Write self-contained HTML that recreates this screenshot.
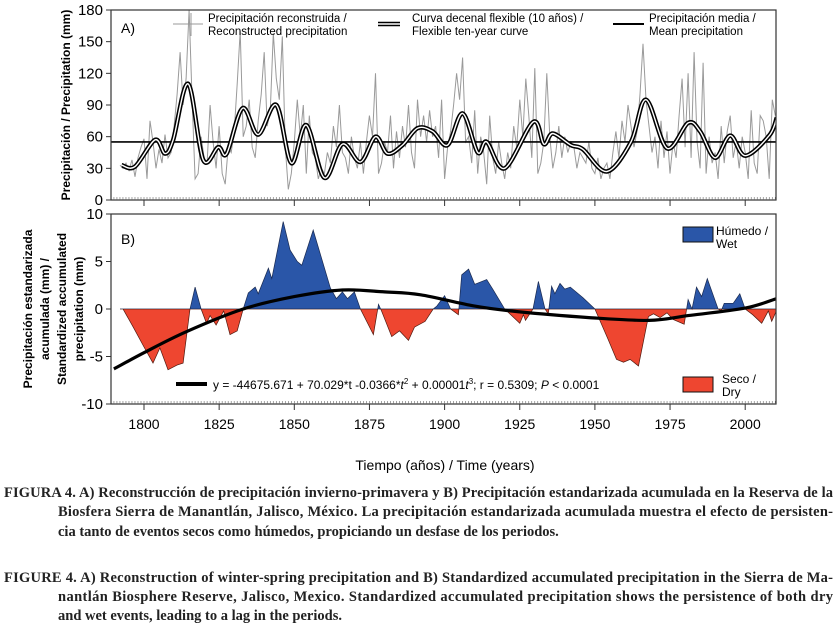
<!DOCTYPE html>
<html><head><meta charset="utf-8"><style>
html,body{margin:0;padding:0;background:#fff;width:837px;height:627px;overflow:hidden}
svg{display:block}
text{font-family:"Liberation Sans",sans-serif}
.cap text{font-family:"Liberation Serif",serif;font-size:14.5px;font-weight:bold;fill:#222}
</style></head><body>
<svg id="chart" width="837" height="627" viewBox="0 0 837 627" xmlns="http://www.w3.org/2000/svg">
<g id="gA"></g>
<g id="gB"></g>
<g id="gX"></g>

<text x="70" y="105" transform="rotate(-90 70 105)" text-anchor="middle" font-size="12" font-weight="bold">Precipitación / Precipitation (mm)</text>
<g font-size="12" font-weight="bold" text-anchor="middle">
<text transform="translate(32 309) rotate(-90)">Precipitación estandarizada</text>
<text transform="translate(49 309) rotate(-90)">acumulada (mm) /</text>
<text transform="translate(66 309) rotate(-90)">Standardized accumulated</text>
<text transform="translate(83 309) rotate(-90)">precipitation (mm)</text>
</g>
<text x="445" y="470" text-anchor="middle" font-size="14">Tiempo (años) / Time (years)</text>

<text x="121" y="33" font-size="14">A)</text>
<text x="121" y="244" font-size="14">B)</text>

<g font-size="11.5">
<g><line x1="173" y1="24" x2="203" y2="24" stroke="#999" stroke-width="1"/><line x1="191" y1="13" x2="191" y2="36" stroke="#999"/><text x="208" y="22">Precipitación reconstruida /</text><text x="208" y="35">Reconstructed precipitation</text></g>
<g><line x1="378" y1="24" x2="400" y2="24" stroke="#000" stroke-width="4.5"/><line x1="378" y1="24" x2="400" y2="24" stroke="#fff" stroke-width="1.5"/><text x="412" y="22">Curva decenal flexible (10 años) /</text><text x="412" y="35">Flexible ten-year curve</text></g>
<g><line x1="613" y1="24" x2="644" y2="24" stroke="#000" stroke-width="2"/><text x="649" y="22">Precipitación media /</text><text x="649" y="35">Mean precipitation</text></g>
</g>
<g font-size="12">
<g><rect x="683" y="227" width="30" height="15" fill="#2a56a8" stroke="#111"/><text x="716" y="235">Húmedo /</text><text x="716" y="248">Wet</text></g>
<g><rect x="683" y="377" width="30" height="15" fill="#ee4630" stroke="#111"/><text x="722" y="383">Seco /</text><text x="722" y="396">Dry</text></g>
<g><line x1="176" y1="384" x2="207" y2="384" stroke="#000" stroke-width="4"/><text x="213" y="389">y = -44675.671 + 70.029*t -0.0366*<tspan font-style="italic">t</tspan><tspan font-size="8" dy="-5">2</tspan><tspan dy="5"> + 0.00001</tspan><tspan font-style="italic">t</tspan><tspan font-size="8" dy="-5">3</tspan><tspan dy="5">; r = 0.5309; </tspan><tspan font-style="italic">P</tspan> &lt; 0.0001</text></g>
</g>

<g class="cap">
<text x="4" y="497" textLength="829" lengthAdjust="spacing">FIGURA 4. A) Reconstrucción de precipitación invierno-primavera y B) Precipitación estandarizada acumulada en la Reserva de la</text>
<text x="58" y="516" textLength="775" lengthAdjust="spacing">Biosfera Sierra de Manantlán, Jalisco, México. La precipitación estandarizada acumulada muestra el efecto de persisten-</text>
<text x="58" y="536">cia tanto de eventos secos  como húmedos, propiciando un desfase de los periodos.</text>
<text x="4" y="582" textLength="829" lengthAdjust="spacing">FIGURE 4. A) Reconstruction of winter-spring precipitation and B) Standardized accumulated precipitation in the Sierra de Ma-</text>
<text x="58" y="601" textLength="775" lengthAdjust="spacing">nantlán Biosphere Reserve, Jalisco, Mexico. Standardized accumulated precipitation shows the persistence of both dry</text>
<text x="58" y="620">and wet events, leading to a lag in the periods.</text>
</g>
</svg>
<script>
// ---- data ----
const startYear = 1792;
const annualPrecip = [33,30,35,28,38,22,40,50,
58,20,75,55,30,48,35,62,40,45,
70,100,140,90,115,180,95,20,25,60,
40,35,90,55,30,70,25,15,50,45,
65,110,160,60,70,95,50,40,75,100,
140,70,85,158,115,95,155,50,10,25,
55,95,60,90,25,80,45,40,20,30,
25,45,35,70,50,90,45,40,25,60,
40,30,55,25,55,80,60,120,25,35,
55,45,80,30,65,40,70,50,90,45,
30,95,60,80,55,85,60,70,40,95,
20,50,65,90,120,95,135,55,60,35,
85,25,60,45,15,80,40,25,55,35,
20,45,30,70,50,95,60,115,80,40,
125,25,35,55,120,60,30,45,70,40,
60,45,55,50,30,45,40,35,55,30,
25,40,20,30,35,20,45,65,40,75,
55,90,70,50,65,100,148,95,70,45,
60,30,75,40,65,25,55,40,80,115,
50,120,40,140,55,30,130,25,60,35,
45,20,70,35,65,80,40,55,30,60,
45,20,85,35,25,80,75,60,20,95,
80];
const smoothYears = [1792.6,1797,1803.7,1807,1809.7,1814.7,1819.7,1824.7,1827.5,1832.8,1838,1844,1849,1854,1860,1866,1872,1877,1881,1886,1891,1896,1901,1906,1911,1914,1920,1929.5,1933,1936,1942,1946,1954,1962,1967,1974,1981,1985,1990,1995,2000,2008,2010.5];
const smoothVals  = [33,31.6,57,44,57,110,38,50,44,87,62,90,35,71,21,53,36,60,44,52,68,65,52,82,45,55,30,74,53,63,52,48,27,55,95,49,73,65,40,61,42,61,78];
const meanPrecip = 55;
const cumYears = [1792,1793,1796.4,1800,1803,1805.3,1808,1811,1813,1815.3,1817,1819,1820.8,1822,1824,1826.5,1828.6,1831,1833,1834.7,1837,1838,1841.4,1842.5,1846.3,1848.6,1851,1852.5,1856.3,1862,1864,1866,1867.7,1870,1872,1876.3,1878,1879,1882.4,1885,1888,1890,1893.5,1896.2,1897.4,1900,1902,1904.6,1905.7,1908,1910,1914,1916,1920,1925,1926.2,1926.9,1929.4,1931.2,1933.4,1934.5,1935.6,1936.7,1938.4,1940,1941.8,1946,1950,1954.4,1957.2,1959.5,1961.7,1964.5,1967.8,1969.5,1971.7,1974,1976,1979.7,1981,1982.3,1983.8,1985.5,1987.4,1991,1992,1993,1996,1998.2,2000,2002.5,2005.5,2007.7,2008.8,2010.5];
const cumVals  = [0,0,-1.9,-4,-5.7,-4.1,-6.4,-5.9,-5.7,0,2.3,0,-1.5,-0.7,-1.7,-0.2,-2.7,-2.3,0,1.7,2.3,1.6,4.3,3.2,9.2,6.2,5,4.6,8.3,2.2,1.1,1.8,1.1,1.8,0,-2.7,0.5,-0.2,-2.9,-2.3,-3.3,-1.9,-1.3,0,0.3,1.4,0,-0.6,3.6,4.2,2.6,3.1,2.1,0,-1.5,-0.6,-1.2,0,2.9,0,-0.5,2.4,1.6,2.7,2.1,2.3,1.2,0,-3.2,-5.3,-5.6,-5.3,-6,-0.8,-0.5,-0.9,-0.4,-1.1,-1.6,1,0,2.3,1.3,3.2,0,-0.2,0.6,0.6,1.6,0,-0.6,-1.5,-0.2,-1.3,-0.1];
const trendYears = [1790,1800,1814,1833,1850,1866,1880,1892,1910,1925,1948,1968,1981,2000,2010.5];
const trendVals  = [-6.3,-4.6,-2.4,0,1.3,2,1.8,1.5,0.3,-0.3,-0.9,-1.2,-0.7,0.1,1.1];
const yTicksA = [0,30,60,90,120,150,180];
const yTicksB = [-10,-5,0,5,10];
const xTicks = [1800,1825,1850,1875,1900,1925,1950,1975,2000];

// ---- scales ----
const L=111,R=776;
const xS = y => 144 + (y-1800)*3.006;
const yA = v => 200 - v*(190/180);
const yB = v => 309 - v*9.5;
const NS='http://www.w3.org/2000/svg';
function mk(tag, attrs, parent){const e=document.createElementNS(NS,tag);for(const k in attrs)e.setAttribute(k,attrs[k]);parent.appendChild(e);return e;}
function spline(pts){let d='M'+pts[0][0].toFixed(1)+','+pts[0][1].toFixed(1);for(let i=0;i<pts.length-1;i++){const p0=pts[i-1]||pts[i],p1=pts[i],p2=pts[i+1],p3=pts[i+2]||p2;const c1=[p1[0]+(p2[0]-p0[0])/6,p1[1]+(p2[1]-p0[1])/6],c2=[p2[0]-(p3[0]-p1[0])/6,p2[1]-(p3[1]-p1[1])/6];d+='C'+c1.map(n=>n.toFixed(1))+' '+c2.map(n=>n.toFixed(1))+' '+p2[0].toFixed(1)+','+p2[1].toFixed(1);}return d;}

const gA=document.getElementById('gA'), gB=document.getElementById('gB'), gX=document.getElementById('gX');
const defs=mk('defs',{},document.getElementById('chart'));
const cpA=mk('clipPath',{id:'clipA'},defs); mk('rect',{x:L,y:10,width:R-L,height:190},cpA);
const cpUp=mk('clipPath',{id:'clipUp'},defs); mk('rect',{x:L,y:214,width:R-L,height:yB(0)-214},cpUp);
const cpDn=mk('clipPath',{id:'clipDn'},defs); mk('rect',{x:L,y:yB(0),width:R-L,height:404-yB(0)},cpDn);
const cpB=mk('clipPath',{id:'clipB'},defs); mk('rect',{x:L,y:214,width:R-L,height:190},cpB);

// ---- panel A ----
let pts = annualPrecip.map((v,i)=>xS(startYear+i).toFixed(1)+','+yA(v).toFixed(1)).join(' ');
const ann = mk('polyline',{points:pts,fill:'none',stroke:'#9a9a9a','stroke-width':1,'clip-path':'url(#clipA)'},gA);


const mean = mk('line',{x1:L,x2:R,y1:yA(meanPrecip),y2:yA(meanPrecip),stroke:'#000','stroke-width':1.6},gA);


const sd = spline(smoothYears.map((y,i)=>[xS(y),yA(smoothVals[i])]));
const s1 = mk('path',{d:sd,fill:'none',stroke:'#000','stroke-width':4.5,'clip-path':'url(#clipA)'},gA);


const s2 = mk('path',{d:sd,fill:'none',stroke:'#fff','stroke-width':1.4,'clip-path':'url(#clipA)'},gA);


const fA=mk('rect',{x:L,y:10,width:R-L,height:190,fill:'none',stroke:'#333','stroke-width':1.2},gA);


yTicksA.forEach(v=>{mk('line',{x1:L-5,x2:L,y1:yA(v),y2:yA(v),stroke:'#333'},gA);
 const t=mk('text',{x:L-8,y:yA(v)+5,'text-anchor':'end','font-size':15},gA);t.textContent=v;
 
 });

// ---- panel B ----
const cp = [[xS(cumYears[0]),yB(0)]].concat(cumYears.map((y,i)=>[xS(y),yB(cumVals[i])])).concat([[xS(cumYears[cumYears.length-1]),yB(0)]]);
const ps = cp.map(p=>p[0].toFixed(1)+','+p[1].toFixed(1)).join(' ');
const wet=mk('polygon',{points:ps,fill:'#2a56a8',stroke:'#1a2a50','stroke-width':0.7,'clip-path':'url(#clipUp)'},gB);


const dry=mk('polygon',{points:ps,fill:'#ee4630',stroke:'#501a10','stroke-width':0.7,'clip-path':'url(#clipDn)'},gB);


const tr=mk('path',{d:spline(trendYears.map((y,i)=>[xS(y),yB(trendVals[i])])),fill:'none',stroke:'#000','stroke-width':3.2,'clip-path':'url(#clipB)'},gB);


const fB=mk('rect',{x:L,y:214,width:R-L,height:190,fill:'none',stroke:'#333','stroke-width':1.2},gB);


yTicksB.forEach(v=>{mk('line',{x1:L-5,x2:L,y1:yB(v),y2:yB(v),stroke:'#333'},gB);
 const t=mk('text',{x:L-8,y:yB(v)+5,'text-anchor':'end','font-size':15},gB);t.textContent=v;
 
 });

// ---- x ticks ----
for(let yr=1790; yr<=2010; yr++){const x=xS(yr); if(x<L||x>R) continue;
 [200,404].forEach(b=>mk('line',{x1:x,x2:x,y1:b-3,y2:b,stroke:'#666','stroke-width':0.6},gX));}
xTicks.forEach(yr=>{const x=xS(yr);
 [200,404].forEach(b=>mk('line',{x1:x,x2:x,y1:b,y2:b+6,stroke:'#333'},gX));
 const t=mk('text',{x:x,y:429,'text-anchor':'middle','font-size':14},gX);t.textContent=yr;
 
 });
</script>
</body></html>
